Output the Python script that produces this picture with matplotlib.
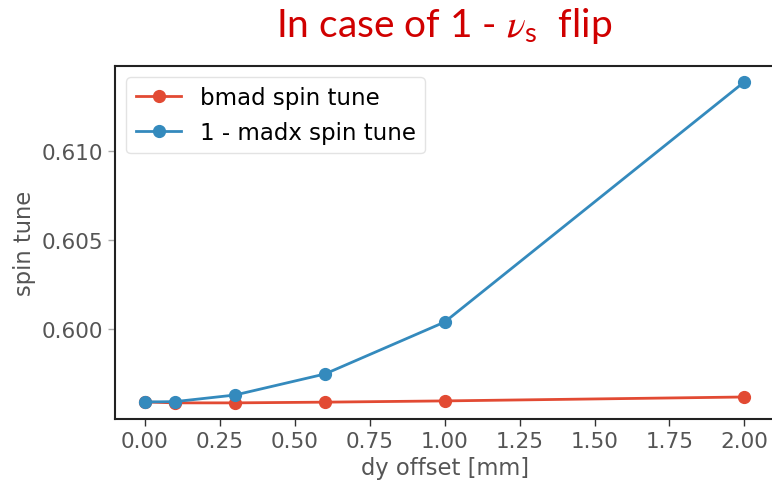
import matplotlib
matplotlib.use("Agg")
import matplotlib.pyplot as plt

dy_offset = [0.0, 0.1, 0.3, 0.6, 1.0, 2.0]
bmad_tune = [0.59590, 0.59585, 0.59585, 0.59589, 0.59596, 0.59618]
madx_tune = [0.59590, 0.59592, 0.59629, 0.59747, 0.60039, 0.61388]
yticks = [0.600, 0.605, 0.610]
xticks = [0.0, 0.25, 0.5, 0.75, 1.0, 1.25, 1.5, 1.75, 2.0]

plt.rcParams['mathtext.fontset'] = 'stix'
fig = plt.figure(figsize=(7.72, 4.81), dpi=100)
ax = fig.add_axes([0.149, 0.127, 0.854, 0.734])

ax.plot(dy_offset, bmad_tune, color='#E24A33', marker='o', markersize=8.5, lw=2, label='bmad spin tune')
ax.plot(dy_offset, madx_tune, color='#348ABD', marker='o', markersize=8.5, lw=2, label='1 - madx spin tune')

ax.set_xticks(xticks)
ax.set_xticklabels([f"{v:.2f}" for v in xticks])
ax.set_yticks(yticks)
ax.set_yticklabels([f"{v:.3f}" for v in yticks])
ax.tick_params(labelsize=15.5, labelcolor='#555555', color='#333333', length=5, width=1)
ax.tick_params(axis='y', color='#aaaaaa')
for s in ax.spines.values():
    s.set_color('#222222')
    s.set_linewidth(1.5)
ax.set_xlabel('dy offset [mm]', fontsize=16.3, color='#555555')
ax.set_ylabel('spin tune', fontsize=16.3, color='#555555')
leg = ax.legend(loc='upper left', fontsize=16.5, frameon=True)
leg.get_frame().set_edgecolor('#dddddd')

fig.text(0.575, 0.945, r'In case of 1 - $\nu_{\mathregular{s}}$  flip', ha='center', va='center',
         fontsize=28, color='#D00000', family='Lato')

fig.savefig('out.png', dpi=100)
